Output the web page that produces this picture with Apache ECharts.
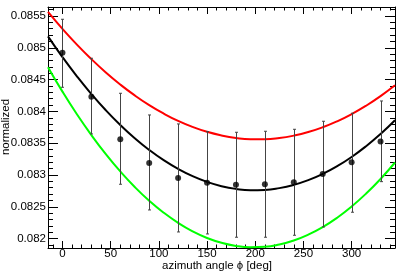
<!DOCTYPE html>
<html><head><meta charset="utf-8">
<script src="https://cdn.jsdelivr.net/npm/echarts@6/dist/echarts.min.js"></script>
<style>html,body{margin:0;padding:0;background:#fff}#c{width:407px;height:276px}</style>
</head><body><div id="c"></div>
<script>
// measured points
const phiPoints = [0, 30, 60, 90, 120, 150, 180, 210, 240, 270, 300, 330];
const meanValues = [0.084923, 0.084232, 0.083562, 0.08319, 0.082954, 0.08288, 0.082849, 0.082855, 0.082886, 0.083017, 0.083201, 0.083525];
const errLow  = [0.084379, 0.083646, 0.082855, 0.082451, 0.082105, 0.082074, 0.082022, 0.082022, 0.082053, 0.082184, 0.082415, 0.082896];
const errHigh = [0.085448, 0.084835, 0.084285, 0.083944, 0.083803, 0.083682, 0.083672, 0.083688, 0.083719, 0.083845, 0.083971, 0.084164];
// curves
const curvePhi = [-15, 0, 15, 30, 45, 60, 75, 90, 105, 120, 135, 150, 165, 180, 195, 210, 225, 240, 255, 270, 285, 300, 315, 330, 345];
const blackCurve = [0.08518, 0.084854, 0.084552, 0.084273, 0.084018, 0.083787, 0.083579, 0.083394, 0.083233, 0.083096, 0.082982, 0.082892, 0.082825, 0.082782, 0.082762, 0.082766, 0.082794, 0.082845, 0.082919, 0.083017, 0.083139, 0.083284, 0.083453, 0.083645, 0.083861];
const redCurve = [0.085563, 0.085297, 0.08505, 0.084822, 0.084612, 0.084422, 0.084251, 0.084099, 0.083966, 0.083851, 0.083756, 0.083679, 0.083622, 0.083583, 0.083564, 0.083563, 0.083581, 0.083619, 0.083675, 0.08375, 0.083844, 0.083957, 0.084089, 0.08424, 0.08441];
const greenCurve = [0.084695, 0.084311, 0.083955, 0.083628, 0.083328, 0.083056, 0.082812, 0.082596, 0.082408, 0.082248, 0.082115, 0.082011, 0.081935, 0.081886, 0.081866, 0.081873, 0.081909, 0.081972, 0.082063, 0.082182, 0.082329, 0.082505, 0.082708, 0.082938, 0.083197];
// ticks
const xMajorTicks = [0, 50, 100, 150, 200, 250, 300];
const xMinorTicks = [-10, 10, 20, 30, 40, 60, 70, 80, 90, 110, 120, 130, 140, 160, 170, 180, 190, 210, 220, 230, 240, 260, 270, 280, 290, 310, 320, 330, 340];
const yMajorTicks = [0.082, 0.0825, 0.083, 0.0835, 0.084, 0.0845, 0.085, 0.0855];
const yTickLabels = ['0.082', '0.0825', '0.083', '0.0835', '0.084', '0.0845', '0.085', '0.0855'];
const yMinorTicks = [0.0819, 0.0821, 0.0822, 0.0823, 0.0824, 0.0826, 0.0827, 0.0828, 0.0829, 0.0831, 0.0832, 0.0833, 0.0834, 0.0836, 0.0837, 0.0838, 0.0839, 0.0841, 0.0842, 0.0843, 0.0844, 0.0846, 0.0847, 0.0848, 0.0849, 0.0851, 0.0852, 0.0853, 0.0854, 0.0856];
const xTitle = 'azimuth angle ϕ [deg]';
const yTitle = 'normalized';

const FONT = 'Liberation Sans, Arial, Helvetica, sans-serif';
const XMIN = -15, XMAX = 345, YMIN = 0.081853, YMAX = 0.085641;
const pair = (xs, ys) => xs.map((x, i) => [x, ys[i]]);

function xAxisDef(pos, major, showLine) {
  return {
    type: 'value', min: XMIN, max: XMAX, position: pos,
    axisLine: { show: showLine, onZero: false, lineStyle: { color: '#000', width: 1 } },
    axisTick: { show: true, inside: true, length: major ? 7 : 3.5, customValues: major ? xMajorTicks : xMinorTicks, lineStyle: { color: '#000', width: 1 } },
    axisLabel: { show: false },
    splitLine: { show: false }
  };
}
function yAxisDef(pos, major, showLine) {
  return {
    type: 'value', min: YMIN, max: YMAX, position: pos,
    axisLine: { show: showLine, onZero: false, lineStyle: { color: '#000', width: 1 } },
    axisTick: { show: true, inside: true, length: major ? 10 : 5, customValues: major ? yMajorTicks : yMinorTicks, lineStyle: { color: '#000', width: 1 } },
    axisLabel: { show: false },
    splitLine: { show: false }
  };
}

const xA = [xAxisDef('bottom', true, true), xAxisDef('bottom', false, false), xAxisDef('top', true, true), xAxisDef('top', false, false)];
xA[0].axisLabel = { show: true, customValues: xMajorTicks, margin: 0, fontSize: 11.5, lineHeight: 11.5, color: '#000', fontFamily: FONT };

const yA = [yAxisDef('left', true, true), yAxisDef('left', false, false), yAxisDef('right', true, true), yAxisDef('right', false, false)];
yA[0].axisLabel = {
  show: true, customValues: yMajorTicks, margin: 2, fontSize: 11.5, color: '#000', fontFamily: FONT,
  formatter: v => { let best = 0; yMajorTicks.forEach((t, i) => { if (Math.abs(t - v) < Math.abs(yMajorTicks[best] - v)) best = i; }); return yTickLabels[best]; }
};

const errData = phiPoints.map((p, i) => [p, errLow[i], errHigh[i]]);

const chart = echarts.init(document.getElementById('c'), null, { renderer: 'canvas' });
chart.setOption({
  animation: false,
  backgroundColor: '#fff',
  grid: { left: 48, right: 12, top: 7, bottom: 28, containLabel: false },
  xAxis: xA,
  yAxis: yA,
  graphic: [{
    type: 'text', x: 5.5, y: 127, rotation: Math.PI / 2,
    style: { text: yTitle, align: 'center', verticalAlign: 'middle', fill: '#000', font: '11.5px ' + FONT }
  }, {
    type: 'text', x: 217, y: 266,
    style: { text: xTitle, align: 'center', verticalAlign: 'middle', fill: '#000', font: '11.5px ' + FONT }
  }],
  series: [
    { type: 'line', name: 'red', xAxisIndex: 0, yAxisIndex: 0, data: pair(curvePhi, redCurve), smooth: true, showSymbol: false, lineStyle: { color: '#ff0000', width: 2 }, z: 2 },
    { type: 'line', name: 'green', xAxisIndex: 0, yAxisIndex: 0, data: pair(curvePhi, greenCurve), smooth: true, showSymbol: false, lineStyle: { color: '#00ff00', width: 2 }, z: 2 },
    { type: 'line', name: 'black', xAxisIndex: 0, yAxisIndex: 0, data: pair(curvePhi, blackCurve), smooth: true, showSymbol: false, lineStyle: { color: '#000', width: 2 }, z: 3 },
    {
      type: 'custom', name: 'errors', xAxisIndex: 0, yAxisIndex: 0, data: errData, z: 4,
      renderItem: (params, api) => {
        const lo = api.coord([api.value(0), api.value(1)]);
        const hi = api.coord([api.value(0), api.value(2)]);
        const x = Math.round(lo[0]) + 0.5;
        const st = { stroke: '#444', lineWidth: 1 };
        return { type: 'group', children: [
          { type: 'line', shape: { x1: x, y1: lo[1], x2: x, y2: hi[1] }, style: st },
          { type: 'line', shape: { x1: x - 1.5, y1: lo[1], x2: x + 1.5, y2: lo[1] }, style: st },
          { type: 'line', shape: { x1: x - 1.5, y1: hi[1], x2: x + 1.5, y2: hi[1] }, style: st }
        ] };
      }
    },
    { type: 'scatter', name: 'data', xAxisIndex: 0, yAxisIndex: 0, data: pair(phiPoints, meanValues), symbol: 'circle', symbolSize: 6, itemStyle: { color: '#000' }, z: 5 }
  ]
});
</script>
</body></html>
